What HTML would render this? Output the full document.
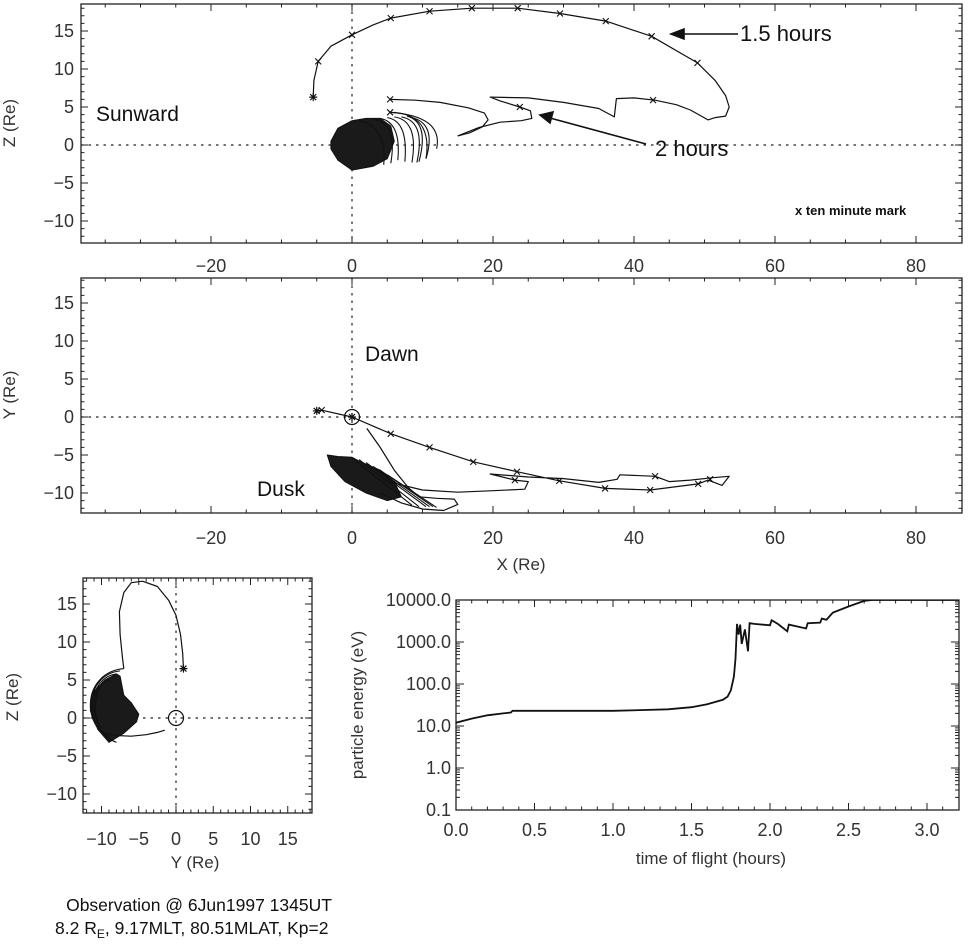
<!DOCTYPE html>
<html><head><meta charset="utf-8">
<style>
html,body{margin:0;padding:0;background:#fff;}
svg{display:block;font-family:"Liberation Sans",Arial,sans-serif;}
</style></head>
<body>
<svg id="fig" width="969" height="947" viewBox="0 0 969 947" xmlns="http://www.w3.org/2000/svg">
<rect width="969" height="947" fill="#fff"/>
<g id="g1"></g>
<g id="g2"></g>
<g id="g3"></g>
<g id="g4"></g>

<text x="15" y="123" font-size="17" fill="#333" transform="rotate(-90 15 123)" text-anchor="middle">Z (Re)</text>
<text x="96" y="121" font-size="21" fill="#111">Sunward</text>
<text x="740" y="41" font-size="22" fill="#111">1.5 hours</text>
<text x="655" y="156" font-size="22" fill="#111">2 hours</text>
<text x="795" y="215" font-size="13" font-weight="bold" fill="#111">x ten minute mark</text>
<g stroke="#111" stroke-width="1.6" fill="#111">
<line x1="738" y1="34" x2="680" y2="34"/><polygon points="671,34 684,29 684,39"/></g>
<g stroke="#111" stroke-width="1.6" fill="#111">
<line x1="646" y1="144" x2="550" y2="118"/><polygon points="540,115 553,112 550,123"/></g>

<text x="15" y="395" font-size="17" fill="#333" transform="rotate(-90 15 395)" text-anchor="middle">Y (Re)</text>
<text x="365" y="361" font-size="21" fill="#111">Dawn</text>
<text x="257" y="496" font-size="21" fill="#111">Dusk</text>
<text x="521" y="570" font-size="17" fill="#333" text-anchor="middle">X (Re)</text>

<text x="18" y="697" font-size="17" fill="#333" transform="rotate(-90 18 697)" text-anchor="middle">Z (Re)</text>
<text x="195" y="868" font-size="17" fill="#333" text-anchor="middle">Y (Re)</text>

<text x="363" y="705" font-size="17" fill="#333" transform="rotate(-90 363 705)" text-anchor="middle">particle energy (eV)</text>
<text x="711" y="864" font-size="17" fill="#333" text-anchor="middle">time of flight (hours)</text>

<text x="199" y="911" font-size="17.5" fill="#111" text-anchor="middle">Observation @ 6Jun1997 1345UT</text>
<text x="55" y="934" font-size="17.5" fill="#111">8.2 R<tspan font-size="12" dy="4">E</tspan><tspan dy="-4">, 9.17MLT, 80.51MLAT, Kp=2</tspan></text>
</svg>
<script>
// ---------- data ----------
// Panel 1: X-Z plane
const xzMainX = [-5.5,-5.4,-4.8,-3,0,3,5.5,11,17,23.5,29.5,36,42.5,49,51.5,53,53.5,53,51.5,50.5,48,46,43,40,37.5,37.2,35,30,25,19.6,21,23.8,25.3,25.5,24,21,18,15];
const xzMainZ = [6.3,8.5,11,13,14.5,15.8,16.7,17.6,18,18,17.3,16.3,14.3,10.8,8.5,6.5,5,3.8,3.6,3.3,4.6,5.3,5.9,6.2,6.1,3.7,4.8,5.6,6.2,6.3,5.8,5,4.5,3.5,3.2,3.0,2.3,1.2];
const xzHookX = [15,16.7,18.5,19.3,18.8,16.5,12.5,9,5.4];
const xzHookZ = [1.2,1.6,2.4,3.3,4.2,4.9,5.6,5.9,6.0];
const xzMarkX = [-4.8,0,5.5,11,17,23.5,29.5,36,42.5,49,42.7,23.8,5.4,5.4];
const xzMarkZ = [11,14.5,16.7,17.6,18,18,17.3,16.3,14.3,10.8,5.9,5.0,6.0,4.3];
const xzCoreX = [-3,-2,0,2,4,5.5,6,5,3,0,-2,-3];
const xzCoreZ = [0.5,2.2,3.2,3.5,3.5,2.5,0.5,-1.8,-2.8,-3.3,-2,-0.5];
const xzArcSX = [4,5,6,7,7.8,8.5,5.4,5.4,3,1];
const xzArcSZ = [3.5,3.6,3.7,3.7,3.8,3.6,4.3,4.3,3.4,3.2];
const xzArcCX = [7,8,9.5,10.5,11,12,11.5,13,6.5,5];
const xzArcCZ = [3,3.2,3.2,3.1,3,2.8,4.2,3.8,3,2.5];
const xzArcEX = [6.5,7.5,8.5,9.2,9.5,10.5,10.5,12,5.5,4.5];
const xzArcEZ = [-2,-2.2,-2.3,-2.3,-2.2,-1.8,-1.8,-0.5,-2.4,-2.6];

// Panel 2: X-Y plane
const xyMainX = [-5,-4.3,0,5.5,11,17.2,23.4,29.4,35.9,42.3,49.1,50.5,52.5,53.5,51,48,45,43,38,37.6,35,30,25,19.6,23.1,25,24.5,20,15,10,5];
const xyMainY = [0.8,0.9,0,-2.2,-4,-5.9,-7.2,-8.4,-9.4,-9.6,-8.8,-8.3,-9.0,-7.8,-8.0,-8.3,-8.5,-7.8,-7.6,-8.2,-8.6,-8.1,-7.9,-7.5,-8.3,-8.5,-9.5,-9.7,-9.9,-9.6,-8.5];
const xyLoopX = [2.1,4,6,8,9.5,12,14.5,15,13,10,7,4];
const xyLoopY = [-1.5,-4,-7,-9.3,-10.5,-10.7,-10.8,-11.5,-12.3,-12.1,-11.3,-10];
const xyMarkX = [-4.3,5.5,11,17.2,23.4,29.4,35.9,42.3,49.1,23.1,43,50.8];
const xyMarkY = [0.9,-2.2,-4,-5.9,-7.2,-8.4,-9.4,-9.6,-8.8,-8.3,-7.8,-8.2];
const xyCoreX = [-3.5,-2,0,1,4,6,7,5,2,-1,-3];
const xyCoreY = [-5,-5.2,-5.3,-5.8,-7,-8.5,-10.5,-11,-10,-8.5,-6.5];
const xyArcSX = [0,1,2,3,4,5];
const xyArcSY = [-5.4,-5.6,-6,-6.5,-7,-7.6];
const xyArcEX = [8.5,9.5,10.5,11,11.5,12];
const xyArcEY = [-11.6,-11.8,-11.8,-11.8,-11.8,-11.9];

// Panel 3: Y-Z plane
const yzMainY = [1,0.9,0.6,0,-1,-2.5,-4.5,-6,-7,-7.6,-7.5,-7.2,-7];
const yzMainZ = [6.5,8.5,11,13.5,15.5,17.3,18,17.8,16.5,14,11,8,6.5];
const yzTailY = [-9.5,-8,-6,-4,-2.5,-1.5];
const yzTailZ = [-2,-2.3,-2.4,-2.2,-1.9,-1.6];
const yzCoreY = [-11,-9.5,-8,-7.5,-7,-6,-5,-5.3,-7,-9,-10.5,-11.5];
const yzCoreZ = [3.5,5,5.8,5.5,3,2,0.5,-0.5,-2,-3.2,-1.5,1];
const yzArcTopY = [-7,-7.5,-8,-8.5,-9];
const yzArcTopZ = [6.5,6.2,5.8,5.4,5];
const yzArcLeft = [-12.5,-12.2,-11.8,-11.4,-11];
const yzArcBotY = [-8,-8.5,-9,-9,-9.5];
const yzArcBotZ = [-3.2,-3,-2.8,-2.5,-2.2];

// Panel 4: energy vs time
const eTime = [0,0.1,0.2,0.3,0.35,0.36,0.5,0.7,1.0,1.2,1.35,1.5,1.6,1.7,1.73,1.75,1.77,1.78,1.79,1.8,1.81,1.82,1.84,1.86,1.87,1.9,2.0,2.01,2.05,2.11,2.12,2.23,2.24,2.32,2.33,2.36,2.4,2.5,2.6,2.65];
const eEnergy = [12,15,18,20,21,23,23,23,23,24,25,28,33,42,50,70,150,400,2700,1500,2600,900,2000,600,2800,2700,2500,3300,2700,1800,2600,2100,2800,2900,3600,3400,5000,7000,9500,10000];
const eTickVals = [0.1,1,10,100,1000,10000];
const eTickLabels = ["0.1","1.0","10.0","100.0","1000.0","10000.0"];
const tTickVals = [0,0.5,1,1.5,2,2.5,3];
const tTickLabels = ["0.0","0.5","1.0","1.5","2.0","2.5","3.0"];
const xTickVals = [-20,0,20,40,60,80];
const xTickLabels = ["\u221220","0","20","40","60","80"];
const zTickVals = [-10,-5,0,5,10,15];
const zTickLabels = ["\u221210","\u22125","0","5","10","15"];
const yTickVals = [-10,-5,0,5,10,15];
const yTickLabels = ["\u221210","\u22125","0","5","10","15"];

// ---------- helpers ----------
const NS = "http://www.w3.org/2000/svg";
function mk(tag, attrs, parent){ const e=document.createElementNS(NS,tag); for(const k in attrs) e.setAttribute(k,attrs[k]); parent.appendChild(e); return e; }
function linScale(d0,d1,r0,r1){ return v => r0+(v-d0)*(r1-r0)/(d1-d0); }

function frame(g,L,T,R,B){
  const r=mk('rect',{x:L,y:T,width:R-L,height:B-T,fill:'none',stroke:'#222','stroke-width':1.3},g);
  
  
}
function ticksX(g,sx,min,max,minorStep,majorStep,T,B){
  for(let v=Math.ceil(min/minorStep)*minorStep; v<=max; v+=minorStep){
    const maj=Math.abs(v/majorStep-Math.round(v/majorStep))<1e-6; const len=maj?7:3.5; const x=sx(v);
    const t=mk('path',{d:`M${x},${B}v${-len}M${x},${T}v${len}`,stroke:'#222','stroke-width':1},g);
    
    
  }
}
function ticksY(g,sy,min,max,minorStep,majorStep,L,R){
  for(let v=Math.ceil(min/minorStep)*minorStep; v<=max; v+=minorStep){
    const maj=Math.abs(v/majorStep-Math.round(v/majorStep))<1e-6; const len=maj?7:3.5; const y=sy(v);
    const t=mk('path',{d:`M${L},${y}h${len}M${R},${y}h${-len}`,stroke:'#222','stroke-width':1},g);
    
    
  }
}
function label(g,x,y,txt,anchor,name){
  const t=mk('text',{x:x,y:y,'font-size':18,fill:'#333','text-anchor':anchor},g); t.textContent=txt;
  
  
}
function poly(g,xs,ys,sx,sy,name,w){
  const d=xs.map((v,i)=>(i?'L':'M')+sx(v).toFixed(1)+','+sy(ys[i]).toFixed(1)).join('');
  const p=mk('path',{d:d,fill:'none',stroke:'#111','stroke-width':w||1.2,'stroke-linejoin':'round'},g);
  
  
  return p;
}
function core(g,xs,ys,sx,sy){
  const d=xs.map((v,i)=>(i?'L':'M')+sx(v).toFixed(1)+','+sy(ys[i]).toFixed(1)).join('')+'Z';
  const p=mk('path',{d:d,fill:'#1a1a1a',stroke:'#111','stroke-width':1},g);
  
  
}
function marks(g,xs,ys,sx,sy){
  xs.forEach((v,i)=>{ const x=sx(v), y=sy(ys[i]);
    const m=mk('path',{d:`M${x-3},${y-3}L${x+3},${y+3}M${x-3},${y+3}L${x+3},${y-3}`,stroke:'#111','stroke-width':1.1},g);
    
    
  });
}
function star(g,x,y){
  const s=mk('path',{d:`M${x-4},${y}h8M${x},${y-4}v8M${x-3},${y-3}l6,6M${x-3},${y+3}l6,-6`,stroke:'#111','stroke-width':1.2},g);
  
  
}
function zeroLines(g,sx,sy,L,T,R,B){
  const a=mk('line',{x1:L,x2:R,y1:sy(0),y2:sy(0),stroke:'#222','stroke-width':1.2,'stroke-dasharray':'2.5,5'},g);
  
  
  const b=mk('line',{x1:sx(0),x2:sx(0),y1:T,y2:B,stroke:'#222','stroke-width':1.2,'stroke-dasharray':'2.5,5'},g);
  
  
}

// ---------- panel 1 ----------
(function(){
  const g=document.getElementById('g1'); const L=81,T=4,R=962,B=243;
  const sx=linScale(0,20,352,493); const sy=linScale(0,10,145,69);
  zeroLines(g,sx,sy,L,T,R,B);
  core(g,xzCoreX,xzCoreZ,sx,sy);
  xzArcSX.forEach((v,i)=>{
    const a=mk('path',{d:`M${sx(v)},${sy(xzArcSZ[i])}Q${sx(xzArcCX[i])},${sy(xzArcCZ[i])} ${sx(xzArcEX[i])},${sy(xzArcEZ[i])}`,fill:'none',stroke:'#111','stroke-width':1.1},g);
    
    
  });
  poly(g,xzMainX,xzMainZ,sx,sy,'xz-trajectory');
  poly(g,xzHookX,xzHookZ,sx,sy,'xz-trajectory-hook');
  marks(g,xzMarkX,xzMarkZ,sx,sy);
  star(g,sx(-5.5),sy(6.3));
  frame(g,L,T,R,B);
  ticksX(g,sx,-38,83,5,20,T,B); ticksY(g,sy,-12,18,1,5,L,R);
  xTickVals.forEach((v,i)=>label(g,sx(v),272,xTickLabels[i],'middle','x-tick-label'));
  zTickVals.forEach((v,i)=>label(g,74,sy(v)+6,zTickLabels[i],'end','z-tick-label'));
})();

// ---------- panel 2 ----------
(function(){
  const g=document.getElementById('g2'); const L=81,T=278,R=962,B=513;
  const sx=linScale(0,20,352,493); const sy=linScale(0,10,417,341);
  zeroLines(g,sx,sy,L,T,R,B);
  core(g,xyCoreX,xyCoreY,sx,sy);
  xyArcSX.forEach((v,i)=>{
    const a=mk('line',{x1:sx(v),y1:sy(xyArcSY[i]),x2:sx(xyArcEX[i]),y2:sy(xyArcEY[i]),stroke:'#111','stroke-width':1.1},g);
    
    
  });
  poly(g,xyMainX,xyMainY,sx,sy,'xy-trajectory');
  poly(g,xyLoopX,xyLoopY,sx,sy,'xy-trajectory-loop');
  marks(g,xyMarkX,xyMarkY,sx,sy);
  star(g,sx(-5),sy(0.8)); star(g,sx(0),sy(0));
  const c=mk('circle',{cx:sx(0),cy:sy(0),r:7.5,fill:'none',stroke:'#111','stroke-width':1.2},g);
  
  
  frame(g,L,T,R,B);
  ticksX(g,sx,-38,83,5,20,T,B); ticksY(g,sy,-12,18,1,5,L,R);
  xTickVals.forEach((v,i)=>label(g,sx(v),544,xTickLabels[i],'middle','x-tick-label'));
  zTickVals.forEach((v,i)=>label(g,74,sy(v)+6,zTickLabels[i],'end','y-tick-label'));
})();

// ---------- panel 3 ----------
(function(){
  const g=document.getElementById('g3'); const L=83,T=578,R=312,B=813;
  const sx=linScale(0,10,176,250.5); const sy=linScale(0,10,718,642);
  zeroLines(g,sx,sy,L,T,R,B);
  core(g,yzCoreY,yzCoreZ,sx,sy);
  yzArcTopY.forEach((v,i)=>{
    const a=mk('path',{d:`M${sx(v)},${sy(yzArcTopZ[i])}C${sx(yzArcLeft[i])},${sy(yzArcTopZ[i]-0.5)} ${sx(yzArcLeft[i]-0.6)},${sy(yzArcBotZ[i]+2)} ${sx(yzArcBotY[i])},${sy(yzArcBotZ[i])}`,fill:'none',stroke:'#111','stroke-width':1.1},g);
    
    
  });
  poly(g,yzMainY,yzMainZ,sx,sy,'yz-trajectory');
  poly(g,yzTailY,yzTailZ,sx,sy,'yz-trajectory-tail');
  star(g,sx(1),sy(6.5));
  const c=mk('circle',{cx:sx(0),cy:sy(0),r:7.5,fill:'none',stroke:'#111','stroke-width':1.2},g);
  
  
  frame(g,L,T,R,B);
  ticksX(g,sx,-12,18,1,5,T,B); ticksY(g,sy,-12,18,1,5,L,R);
  yTickVals.forEach((v,i)=>label(g,sx(v),845,yTickLabels[i],'middle','y-tick-label'));
  zTickVals.forEach((v,i)=>label(g,77,sy(v)+6,zTickLabels[i],'end','z-tick-label'));
})();

// ---------- panel 4 ----------
(function(){
  const g=document.getElementById('g4'); const L=456,T=600,R=959,B=810;
  const sx=linScale(0,1,456,613); const lsy=v=>810-(Math.log10(v)+1)*42;
  const cp=mk('clipPath',{id:'clip4'},g); mk('rect',{x:L,y:T,width:R-L,height:B-T},cp);
  frame(g,L,T,R,B);
  ticksX(g,sx,0,3.2,0.1,0.5,T,B);
  for(let d=-1; d<4; d++){ for(let m=1;m<10;m++){ const v=m*Math.pow(10,d); const y=lsy(v); const len=m===1?8:4;
    const t=mk('path',{d:`M${L},${y}h${len}M${R},${y}h${-len}`,stroke:'#222','stroke-width':1},g);
    
     } }
  const d=eTime.map((v,i)=>(i?'L':'M')+sx(v).toFixed(1)+','+lsy(eEnergy[i]).toFixed(1)).join('')+`L${R},${lsy(10000)}`;
  const p=mk('path',{d:d,fill:'none',stroke:'#111','stroke-width':1.8,'clip-path':'url(#clip4)'},g);
  
  
  tTickVals.forEach((v,i)=>label(g,sx(v),836,tTickLabels[i],'middle','time-tick-label'));
  eTickVals.forEach((v,i)=>label(g,451,lsy(v)+6,eTickLabels[i],'end','energy-tick-label'));
})();
</script>
</body></html>
